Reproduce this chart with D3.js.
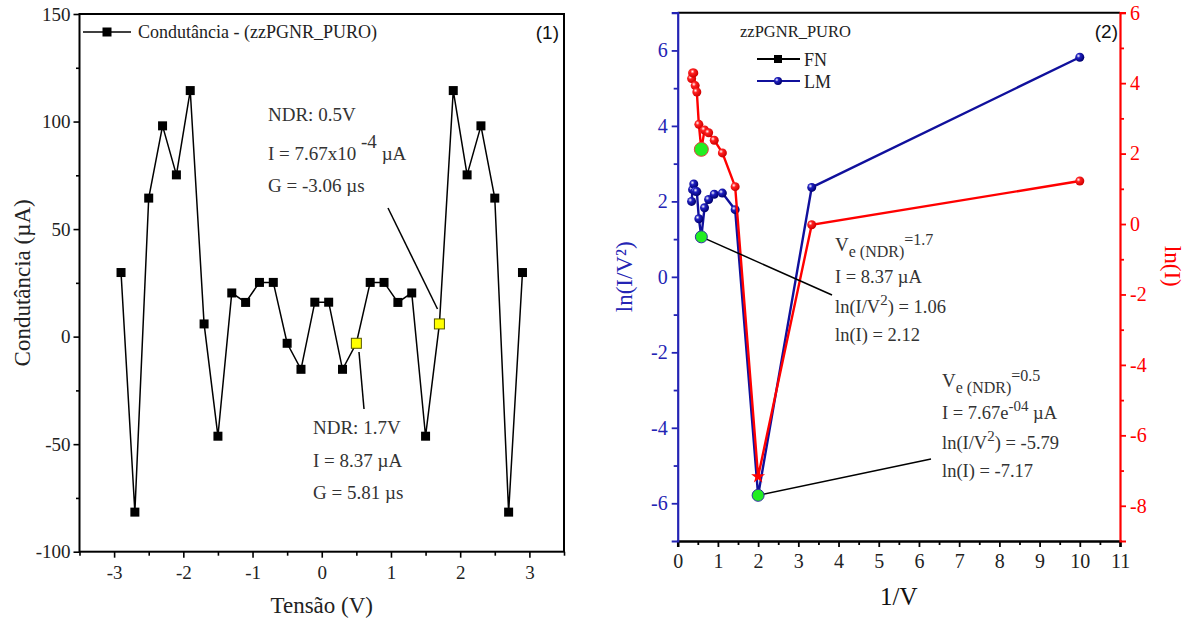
<!DOCTYPE html>
<html><head><meta charset="utf-8">
<script src="https://cdn.jsdelivr.net/npm/d3@7"></script>
<style>
html,body{margin:0;padding:0;background:#fff;}
svg{display:block;}
</style></head>
<body>
<script>
// ---------- Panel (1) data ----------
const tensao = [-2.9,-2.7,-2.5,-2.3,-2.1,-1.9,-1.7,-1.5,-1.3,-1.1,-0.9,-0.7,-0.5,-0.3,-0.1,0.1,0.3,0.5,0.7,0.9,1.1,1.3,1.5,1.7,1.9,2.1,2.3,2.5,2.7,2.9];
const condutancia = [29.8,-81.6,64.4,98,75.2,114.4,5.9,-46.3,20.3,15.9,25.2,25.2,-3.1,-15.2,16,16,-15.2,-3.1,25.2,25.2,15.9,20.3,-46.3,5.9,114.4,75.2,98,64.4,-81.6,29.8];
const ndrTensao = [0.5, 1.7];
const ticksTensao = [-3,-2,-1,0,1,2,3];
const ticksCond = [-100,-50,0,50,100,150];

// ---------- Panel (2) data ----------
const invV = [0.345,0.370,0.400,0.435,0.476,0.526,0.588,0.667,0.769,0.909,1.111,1.429,2.0,3.333,10.0];
const lnIV2 = [2.0,2.31,2.46,2.27,2.26,1.54,1.06,1.83,2.05,2.19,2.22,1.78,-5.79,2.37,5.82];
const lnI = [4.13,4.29,4.29,3.93,3.75,2.83,2.12,2.67,2.59,2.38,2.02,1.06,-7.17,-0.02,1.22];
const ndrInvV = [0.588, 2.0];
const ndrLnIV2 = [1.06, -5.79];
const ndrLnI = [2.12, -7.17];
const ticksInvV = [0,1,2,3,4,5,6,7,8,9,10,11];
const ticksLnIV2 = [-6,-4,-2,0,2,4,6];
const ticksLnI = [-8,-6,-4,-2,0,2,4,6];

const W = 1195, H = 623;
const SERIF = "'Liberation Serif','Times New Roman',serif";
const SANS = "'Liberation Sans',Arial,sans-serif";
const svg = d3.select("body").append("svg").attr("width", W).attr("height", H)
  .style("font-family", SERIF);

const BLUE = "#10109c", BLUEAX = "#2424b4", RED = "#ff0000";
const fmt = d => String(d);

const defs = svg.append("defs");
function sphere(id, c1, c2){
  const g = defs.append("radialGradient").attr("id", id).attr("cx","35%").attr("cy","35%").attr("r","65%");
  g.append("stop").attr("offset","0%").attr("stop-color","#ffffff");
  g.append("stop").attr("offset","35%").attr("stop-color",c1);
  g.append("stop").attr("offset","100%").attr("stop-color",c2);
}
sphere("gRed", "#ff2020", "#d00000");
sphere("gBlue", "#2020c0", "#000070");

function styleTicks(g, size, color){
  g.selectAll("text").style("font-family", SERIF).style("font-size", size+"px").attr("fill", color);
}

// ================= Panel 1 =================
const xL = d3.scaleLinear().domain([-3.5,3.5]).range([79.5,564]);
const yL = d3.scaleLinear().domain([-100,150]).range([551.7,14]);
const p1 = svg.append("g");

p1.append("rect").attr("x",xL(-3.5)).attr("y",yL(150)).attr("width",xL(3.5)-xL(-3.5)).attr("height",yL(-100)-yL(150))
  .attr("fill","none").attr("stroke","#000").attr("stroke-width",2);

const gyL = p1.append("g").attr("transform",`translate(${xL(-3.5)},0)`)
  .call(d3.axisLeft(yL).tickValues(ticksCond).tickSize(6).tickPadding(3).tickFormat(fmt));
gyL.select(".domain").remove();
gyL.selectAll("line").attr("stroke-width",1.6);
styleTicks(gyL, 19, "#222");
const gyLm = p1.append("g").attr("transform",`translate(${xL(-3.5)},0)`)
  .call(d3.axisLeft(yL).tickValues(d3.range(-75,150,50)).tickSize(3.5).tickFormat(""));
gyLm.select(".domain").remove(); gyLm.selectAll("line").attr("stroke-width",1.6);

const gxL = p1.append("g").attr("transform",`translate(0,${yL(-100)})`)
  .call(d3.axisBottom(xL).tickValues(ticksTensao).tickSize(6).tickPadding(8).tickFormat(fmt));
gxL.select(".domain").remove();
gxL.selectAll("line").attr("stroke-width",1.6);
styleTicks(gxL, 19, "#222");
const gxLm = p1.append("g").attr("transform",`translate(0,${yL(-100)})`)
  .call(d3.axisBottom(xL).tickValues(d3.range(-3.5,3.6,1)).tickSize(4).tickFormat(""));
gxLm.select(".domain").remove(); gxLm.selectAll("line").attr("stroke-width",1.6);

p1.append("text").attr("x",xL(0)).attr("y",613).attr("text-anchor","middle").style("font-size","23px").attr("fill","#222").text("Tensão (V)");
p1.append("text").attr("transform",`translate(30,${yL(25)}) rotate(-90)`).attr("text-anchor","middle").style("font-size","23px").attr("fill","#222").text("Condutância (µA)");

const pts1 = tensao.map((v,i)=>({x:v,y:condutancia[i]}));
p1.append("path").datum(pts1).attr("fill","none").attr("stroke","#000").attr("stroke-width",1.5)
  .attr("d", d3.line().x(d=>xL(d.x)).y(d=>yL(d.y)));
p1.selectAll("rect.pt").data(pts1.filter(d=>!ndrTensao.includes(d.x))).join("rect").attr("class","pt")
  .attr("x",d=>xL(d.x)-4.5).attr("y",d=>yL(d.y)-4.5).attr("width",9).attr("height",9).attr("fill","#000");
p1.selectAll("rect.ndr").data(pts1.filter(d=>ndrTensao.includes(d.x))).join("rect").attr("class","ndr")
  .attr("x",d=>xL(d.x)-5).attr("y",d=>yL(d.y)-5).attr("width",10).attr("height",10).attr("fill","#ffff00").attr("stroke","#555500").attr("stroke-width",1);

p1.append("line").attr("x1",83).attr("x2",131).attr("y1",32).attr("y2",32).attr("stroke","#000").attr("stroke-width",1.5);
p1.append("rect").attr("x",102.5).attr("y",27.5).attr("width",9).attr("height",9).attr("fill","#000");
p1.append("text").attr("x",138).attr("y",38).style("font-size","18px").attr("fill","#222").text("Condutância - (zzPGNR_PURO)");
p1.append("text").attr("x",559).attr("y",39).attr("text-anchor","end").style("font-size","19px").style("font-family",SANS).attr("fill","#111").text("(1)");

const a1 = p1.append("g").style("font-size","19px").attr("fill","#333");
a1.append("text").attr("x",268).attr("y",121).text("NDR: 0.5V");
const t2 = a1.append("text").attr("x",268).attr("y",160);
t2.append("tspan").text("I = 7.67x10 ");
t2.append("tspan").attr("dy",-12).text("-4");
t2.append("tspan").attr("dy",12).text(" µA");
a1.append("text").attr("x",268).attr("y",192).text("G = -3.06 µs");
p1.append("line").attr("x1",388).attr("y1",208).attr("x2",437.5).attr("y2",309).attr("stroke","#000").attr("stroke-width",1.5);

a1.append("text").attr("x",313).attr("y",434).text("NDR: 1.7V");
a1.append("text").attr("x",313).attr("y",467).text("I = 8.37 µA");
a1.append("text").attr("x",313).attr("y",499).text("G = 5.81 µs");
p1.append("line").attr("x1",359).attr("y1",352).attr("x2",364).attr("y2",409).attr("stroke","#000").attr("stroke-width",1.5);

// ================= Panel 2 =================
const xR = d3.scaleLinear().domain([0,11]).range([677.7,1120]);
const yB = d3.scaleLinear().domain([-7,7]).range([541,12.7]);
const yR = d3.scaleLinear().domain([-9,6]).range([541,12.7]);
const p2 = svg.append("g");

p2.append("line").attr("x1",xR(0)).attr("x2",xR(11)).attr("y1",yB(7)).attr("y2",yB(7)).attr("stroke","#000").attr("stroke-width",2);

const gxR = p2.append("g").attr("transform",`translate(0,${yB(-7)})`)
  .call(d3.axisBottom(xR).tickValues(ticksInvV).tickSize(6).tickPadding(7).tickFormat(fmt));
gxR.select(".domain").attr("stroke-width",2.5);
gxR.selectAll("line").attr("stroke-width",1.8);
styleTicks(gxR, 20, "#222");
const gxRm = p2.append("g").attr("transform",`translate(0,${yB(-7)})`)
  .call(d3.axisBottom(xR).tickValues(d3.range(0.5,11,1)).tickSize(4).tickFormat(""));
gxRm.select(".domain").remove(); gxRm.selectAll("line").attr("stroke-width",1.8);

const gyB = p2.append("g").attr("transform",`translate(${xR(0)},0)`)
  .call(d3.axisLeft(yB).tickValues(ticksLnIV2).tickSize(6).tickPadding(4).tickFormat(fmt));
gyB.select(".domain").attr("stroke",BLUEAX).attr("stroke-width",2.2);
gyB.selectAll("line").attr("stroke",BLUEAX).attr("stroke-width",1.8);
styleTicks(gyB, 20, BLUEAX);
const gyBm = p2.append("g").attr("transform",`translate(${xR(0)},0)`)
  .call(d3.axisLeft(yB).tickValues(d3.range(-5,7,2)).tickSize(4).tickFormat(""));
gyBm.select(".domain").remove(); gyBm.selectAll("line").attr("stroke",BLUEAX).attr("stroke-width",1.8);

const gyR = p2.append("g").attr("transform",`translate(${xR(11)},0)`)
  .call(d3.axisRight(yR).tickValues(ticksLnI).tickSize(6).tickPadding(4).tickFormat(fmt));
gyR.select(".domain").attr("stroke",RED).attr("stroke-width",2.2);
gyR.selectAll("line").attr("stroke",RED).attr("stroke-width",1.8);
styleTicks(gyR, 20, RED);
const gyRm = p2.append("g").attr("transform",`translate(${xR(11)},0)`)
  .call(d3.axisRight(yR).tickValues(d3.range(-7,6,2)).tickSize(4).tickFormat(""));
gyRm.select(".domain").remove(); gyRm.selectAll("line").attr("stroke",RED).attr("stroke-width",1.8);

p2.append("text").attr("x",xR(5.5)).attr("y",605).attr("text-anchor","middle").style("font-size","25px").attr("fill","#111").text("1/V");
p2.append("text").attr("transform",`translate(632,${yB(0)}) rotate(-90)`).attr("text-anchor","middle").style("font-size","23px").attr("fill",BLUEAX).text("ln(I/V²)");
p2.append("text").attr("transform",`translate(1165,${yR(-1.2)}) rotate(90)`).attr("text-anchor","middle").style("font-size","23px").attr("fill",RED).text("ln(I)");

const ptsB = invV.map((v,i)=>({x:v,y:lnIV2[i]}));
const ptsR = invV.map((v,i)=>({x:v,y:lnI[i]}));
p2.append("path").datum(ptsB).attr("fill","none").attr("stroke",BLUE).attr("stroke-width",2.4)
  .attr("d", d3.line().x(d=>xR(d.x)).y(d=>yB(d.y)));
p2.selectAll("circle.b").data(ptsB.filter(d=>!ndrInvV.includes(d.x))).join("circle").attr("class","b")
  .attr("cx",d=>xR(d.x)).attr("cy",d=>yB(d.y)).attr("r",4.5).attr("fill","url(#gBlue)");
p2.append("path").datum(ptsR).attr("fill","none").attr("stroke",RED).attr("stroke-width",2.4)
  .attr("d", d3.line().x(d=>xR(d.x)).y(d=>yR(d.y)));
p2.selectAll("circle.r").data(ptsR.filter(d=>!ndrInvV.includes(d.x))).join("circle").attr("class","r")
  .attr("cx",d=>xR(d.x)).attr("cy",d=>yR(d.y)).attr("r",4.5).attr("fill","url(#gRed)");

const star = d3.symbol().type(d3.symbolStar).size(60);
p2.append("path").attr("d",star()).attr("transform",`translate(${xR(ndrInvV[1])},${yR(ndrLnI[1])})`).attr("fill",RED);

p2.append("line").attr("x1",xR(ndrInvV[0])).attr("y1",yB(ndrLnIV2[0])).attr("x2",832).attr("y2",295).attr("stroke","#000").attr("stroke-width",1.5);
p2.append("line").attr("x1",xR(ndrInvV[1])).attr("y1",yB(ndrLnIV2[1])).attr("x2",931).attr("y2",459).attr("stroke","#000").attr("stroke-width",1.5);

p2.append("circle").attr("cx",xR(ndrInvV[0])).attr("cy",yR(ndrLnI[0])).attr("r",7).attr("fill","#22ee22").attr("stroke","#e04040").attr("stroke-width",1);
p2.append("circle").attr("cx",xR(ndrInvV[0])).attr("cy",yB(ndrLnIV2[0])).attr("r",6).attr("fill","#22ee22").attr("stroke","#3030a0").attr("stroke-width",1);
p2.append("circle").attr("cx",xR(ndrInvV[1])).attr("cy",yB(ndrLnIV2[1])).attr("r",6).attr("fill","#22ee22").attr("stroke","#3030a0").attr("stroke-width",1);

p2.append("text").attr("x",740).attr("y",37).style("font-size","16.5px").attr("fill","#222").text("zzPGNR_PURO");
p2.append("line").attr("x1",757).attr("x2",800).attr("y1",59).attr("y2",59).attr("stroke","#000").attr("stroke-width",2);
p2.append("rect").attr("x",774).attr("y",55).attr("width",8).attr("height",8).attr("fill","#000");
p2.append("text").attr("x",804).attr("y",66).style("font-size","18px").attr("fill","#222").text("FN");
p2.append("line").attr("x1",757).attr("x2",800).attr("y1",81).attr("y2",81).attr("stroke",BLUE).attr("stroke-width",2);
p2.append("circle").attr("cx",778).attr("cy",81).attr("r",4).attr("fill","url(#gBlue)");
p2.append("text").attr("x",804).attr("y",88).style("font-size","18px").attr("fill","#222").text("LM");
p2.append("text").attr("x",1118).attr("y",38).attr("text-anchor","end").style("font-size","19px").style("font-family",SANS).attr("fill","#111").text("(2)");

function annot(x, y0, ve, iParts, l1, l2){
  const g = p2.append("g").style("font-size","18.5px").attr("fill","#333");
  const t = g.append("text").attr("x",x).attr("y",y0);
  t.append("tspan").style("font-size","19px").text("V");
  t.append("tspan").attr("dy",6).style("font-size","16px").text("e (NDR)");
  t.append("tspan").attr("dy",-12).style("font-size","16px").text("=" + ve);
  const ti = g.append("text").attr("x",x).attr("y",y0+32);
  iParts(ti);
  const t3 = g.append("text").attr("x",x).attr("y",y0+62);
  t3.append("tspan").text("ln(I/V");
  t3.append("tspan").attr("dy",-8).style("font-size","15px").text("2");
  t3.append("tspan").attr("dy",8).text(") = " + l1);
  g.append("text").attr("x",x).attr("y",y0+90).text("ln(I) = " + l2);
}
annot(835, 251, "1.7", t=>t.text("I = 8.37 µA"), "1.06", "2.12");
annot(942, 387, "0.5", t=>{t.append("tspan").text("I = 7.67e");t.append("tspan").attr("dy",-8).style("font-size","15px").text("-04");t.append("tspan").attr("dy",8).text(" µA");}, "-5.79", "-7.17");
</script>
</body></html>
